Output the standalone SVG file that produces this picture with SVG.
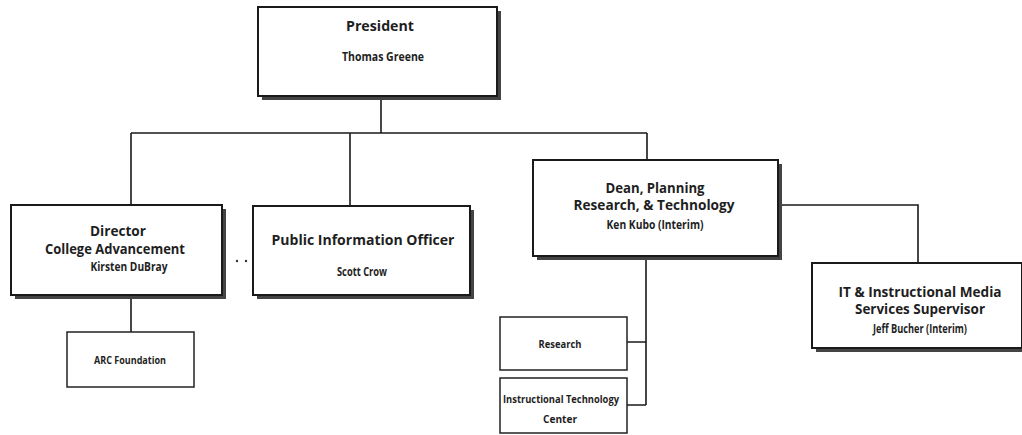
<svg xmlns="http://www.w3.org/2000/svg" width="1022" height="435" viewBox="0 0 1022 435">
<style>
.sh{fill:#444}
.bx{fill:#fff;stroke:#1a1a1a;stroke-width:2}
.sb{fill:#fff;stroke:#222;stroke-width:1.5}
.cn{stroke:#1a1a1a;stroke-width:1.6;fill:none}
text{font-family:"Open Sans","DejaVu Sans",sans-serif;fill:#1e1e1e;text-anchor:middle;font-weight:bold}
.t{font-size:14px}
.n{font-size:12px}
.s{font-size:11px}
</style>
<rect width="1022" height="435" fill="#fff"/>
<g id="connectors">
<path class="cn" d="M381 96V133M131 133H647M131 133V205M350 133V206M647 133V160M777 205H918V263M131 295V332M646 256V405M627 342H646M627 405H646"/>
<circle cx="237" cy="261" r="1.2" fill="#333"/>
<circle cx="246" cy="261" r="1.2" fill="#333"/>
</g>
<g id="president">
<rect class="sh" x="262" y="11" width="239" height="89"/>
<rect class="bx" x="258" y="7" width="239" height="89"/>
<text class="t" x="380" y="31" textLength="68" lengthAdjust="spacingAndGlyphs" style="font-size:15px">President</text>
<text class="n" x="383" y="61" textLength="82" lengthAdjust="spacingAndGlyphs">Thomas Greene</text>
</g>
<g id="director">
<rect class="sh" x="15" y="209" width="211" height="90"/>
<rect class="bx" x="11" y="205" width="211" height="90"/>
<text class="t" x="118" y="236" textLength="56" lengthAdjust="spacingAndGlyphs">Director</text>
<text class="t" x="115" y="254" textLength="140" lengthAdjust="spacingAndGlyphs">College Advancement</text>
<text class="n" x="129" y="271" textLength="77" lengthAdjust="spacingAndGlyphs">Kirsten DuBray</text>
</g>
<g id="pio">
<rect class="sh" x="257" y="210" width="217" height="89"/>
<rect class="bx" x="253" y="206" width="217" height="89"/>
<text class="t" x="363" y="245" textLength="183" lengthAdjust="spacingAndGlyphs" style="font-size:15px">Public Information Officer</text>
<text class="n" x="362" y="276" textLength="50" lengthAdjust="spacingAndGlyphs">Scott Crow</text>
</g>
<g id="dean">
<rect class="sh" x="537" y="164" width="245" height="96"/>
<rect class="bx" x="533" y="160" width="245" height="96"/>
<text class="t" x="655" y="193" textLength="99" lengthAdjust="spacingAndGlyphs">Dean, Planning</text>
<text class="t" x="654" y="210" textLength="161" lengthAdjust="spacingAndGlyphs">Research, &amp; Technology</text>
<text class="n" x="655" y="229" textLength="97" lengthAdjust="spacingAndGlyphs">Ken Kubo (Interim)</text>
</g>
<g id="it-media">
<rect class="sh" x="816" y="267" width="210" height="85"/>
<rect class="bx" x="812" y="263" width="210" height="85"/>
<text class="t" x="920" y="297" textLength="163" lengthAdjust="spacingAndGlyphs">IT &amp; Instructional Media</text>
<text class="t" x="920" y="314" textLength="130" lengthAdjust="spacingAndGlyphs">Services Supervisor</text>
<text class="n" x="920" y="333" textLength="94" lengthAdjust="spacingAndGlyphs">Jeff Bucher (Interim)</text>
</g>
<g id="arc-foundation">
<rect class="sb" x="67" y="332" width="127" height="55"/>
<text class="s" x="130" y="364" textLength="72" lengthAdjust="spacingAndGlyphs">ARC Foundation</text>
</g>
<g id="research">
<rect class="sb" x="500" y="317" width="127" height="53"/>
<text class="s" x="560" y="348" textLength="43" lengthAdjust="spacingAndGlyphs">Research</text>
</g>
<g id="itc">
<rect class="sb" x="500" y="378" width="127" height="55"/>
<text class="s" x="561" y="403" textLength="116" lengthAdjust="spacingAndGlyphs">Instructional Technology</text>
<text class="s" x="560" y="423" textLength="34" lengthAdjust="spacingAndGlyphs">Center</text>
</g>
</svg>
